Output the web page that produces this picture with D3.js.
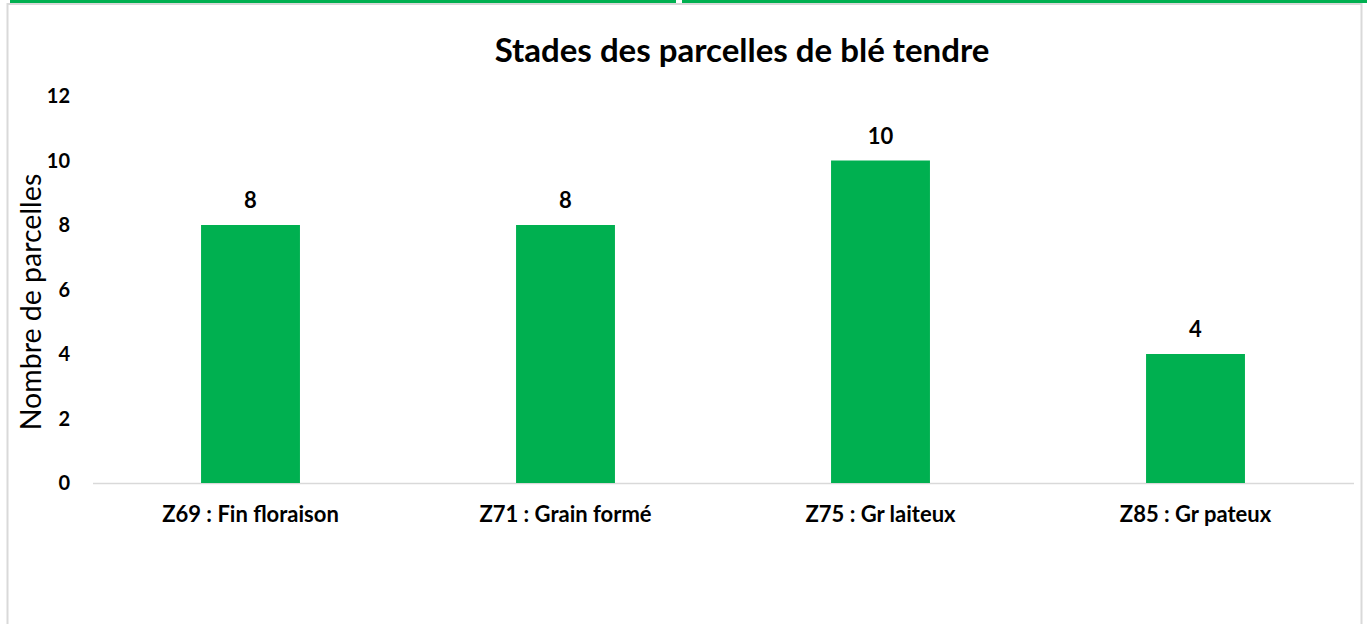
<!DOCTYPE html>
<html>
<head>
<meta charset="utf-8">
<script src="https://cdn.jsdelivr.net/npm/d3@7"></script>
<style>
  body { margin: 0; background: #fff; }
  text { font-family: Lato, "Open Sans", sans-serif; fill: #000; }
</style>
</head>
<body>
<svg id="chart" width="1367" height="624"></svg>
<script>
// chart data
const stades = ['Z69 : Fin floraison', 'Z71 : Grain formé', 'Z75 : Gr laiteux', 'Z85 : Gr pateux']
const parcelles = [8, 8, 10, 4]
const yTicks = [0, 2, 4, 6, 8, 10, 12]
const titre = 'Stades des parcelles de blé tendre'
const titreAxeY = 'Nombre de parcelles'

const svg = d3.select('#chart')
const green = '#00B050'

// top green band (partially cut) and chart frame
svg.append('rect').attr('x', 10).attr('y', 0).attr('width', 666).attr('height', 3).attr('fill', green)
svg.append('rect').attr('x', 682).attr('y', 0).attr('width', 685).attr('height', 3).attr('fill', green)
svg.append('rect')
    .attr('x', 7.5).attr('y', 4)
    .attr('width', 1354).attr('height', 640)
    .attr('fill', 'none')
    .attr('stroke', '#d9d9d9')
    .attr('stroke-width', 2)

const x = d3.scaleBand()
    .domain(stades)
    .range([93, 1353])
    .paddingInner(0.686)
    .paddingOuter(0.343)

const y = d3.scaleLinear()
    .domain([0, 12])
    .range([483, 96])

// x axis line
svg.append('line')
    .attr('x1', 93).attr('x2', 1354)
    .attr('y1', y(0) + 0.5).attr('y2', y(0) + 0.5)
    .attr('stroke', '#d9d9d9')
    .attr('stroke-width', 1.5)

// bars
svg.selectAll('rect.bar')
    .data(stades)
    .join('rect')
    .attr('class', 'bar')
    .attr('x', d => x(d))
    .attr('width', x.bandwidth())
    .attr('y', (d, i) => y(parcelles[i]))
    .attr('height', (d, i) => y(0) - y(parcelles[i]))
    .attr('fill', green)

// value labels
svg.selectAll('text.val')
    .data(stades)
    .join('text')
    .attr('class', 'val')
    .attr('x', d => x(d) + x.bandwidth() / 2)
    .attr('y', (d, i) => y(parcelles[i]) - 17)
    .attr('text-anchor', 'middle')
    .attr('font-size', 22)
    .attr('font-weight', 'bold')
    .text((d, i) => parcelles[i])

// x labels
svg.selectAll('text.cat')
    .data(stades)
    .join('text')
    .attr('class', 'cat')
    .attr('x', d => x(d) + x.bandwidth() / 2)
    .attr('y', 522)
    .attr('text-anchor', 'middle')
    .attr('font-size', 22)
    .attr('font-weight', 'bold')
    .text(d => d)

// y tick labels
svg.selectAll('text.tick')
    .data(yTicks)
    .join('text')
    .attr('class', 'tick')
    .attr('x', 70)
    .attr('y', d => y(d) + 7)
    .attr('text-anchor', 'end')
    .attr('font-size', 20)
    .attr('font-weight', 'bold')
    .text(d => d)

// y axis title
svg.append('text')
    .attr('transform', 'translate(41,302) rotate(-90)')
    .attr('text-anchor', 'middle')
    .attr('font-size', 28.5)
    .text(titreAxeY)

// title
svg.append('text')
    .attr('x', 742)
    .attr('y', 62)
    .attr('text-anchor', 'middle')
    .attr('font-size', 33)
    .attr('font-weight', 'bold')
    .text(titre)
</script>
</body>
</html>
